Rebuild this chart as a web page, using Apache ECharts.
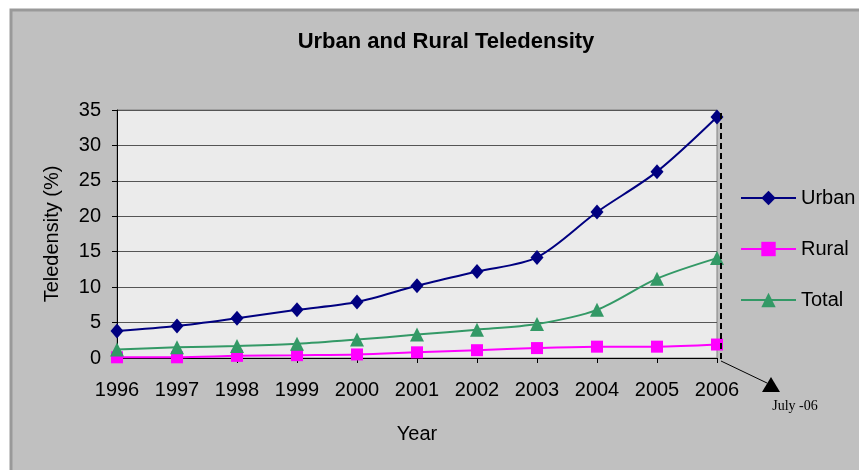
<!DOCTYPE html>
<html>
<head>
<meta charset="utf-8">
<script src="https://cdn.jsdelivr.net/npm/echarts@6/dist/echarts.min.js"></script>
<style>
	html, body { margin: 0; padding: 0; background: #ffffff; }
	#chart { width: 859px; height: 470px; }
</style>
</head>
<body>
<div id="chart"></div>
<script>
// 数据，从图上读出来的
var years = ['1996', '1997', '1998', '1999', '2000', '2001', '2002', '2003', '2004', '2005', '2006'];
var urban = [3.8, 4.5, 5.6, 6.8, 7.9, 10.2, 12.2, 14.2, 20.6, 26.3, 34.0];
var rural = [0.1, 0.1, 0.3, 0.4, 0.5, 0.8, 1.1, 1.4, 1.6, 1.6, 1.9];
var total = [1.2, 1.5, 1.7, 2.0, 2.6, 3.3, 4.0, 4.8, 6.8, 11.2, 14.1];
var yTicks = [0, 5, 10, 15, 20, 25, 30, 35];
var note = 'July -06';

var font = "'Liberation Sans', Arial, sans-serif";

// 灰色外框
var frame = {
	type: 'rect',
	z: -10,
	shape: { x: 11, y: 10, width: 870, height: 480 },
	style: { fill: '#c0c0c0', stroke: '#999999', lineWidth: 3 }
};

function showLine() {
	var myChart = echarts.init(document.getElementById('chart'));
	var option = {
		animation: false,
		backgroundColor: '#ffffff',
		title: {
			text: 'Urban and Rural Teledensity',
			left: 441,
			textAlign: 'center',
			top: 26,
			textStyle: {
				fontFamily: font,
				fontSize: 22,
				fontWeight: 'bold',
				color: '#000000'
			}
		},
		legend: {
			orient: 'vertical',
			left: 740,
			top: 188,
			padding: 0,
			itemWidth: 55,
			itemHeight: 18,
			itemGap: 31,
			textStyle: {
				fontFamily: font,
				fontSize: 20,
				lineHeight: 20,
				color: '#000000'
			},
			data: ['Urban', 'Rural', 'Total']
		},
		graphic: [frame],
		grid: {
			left: 117,
			right: 142,
			top: 110,
			bottom: 112,
			show: true,
			backgroundColor: '#ebebeb',
			borderColor: '#808080',
			borderWidth: 1
		},
		xAxis: {
			type: 'category',
			data: years,
			boundaryGap: false,
			name: 'Year',
			nameLocation: 'middle',
			nameGap: 66,
			nameTextStyle: { fontFamily: font, fontSize: 20, color: '#000000' },
			axisLine: { lineStyle: { color: '#000000', width: 1 } },
			axisTick: { show: true, length: 5, lineStyle: { color: '#000000' } },
			axisLabel: {
				margin: 22,
				fontFamily: font,
				fontSize: 20,
				color: '#000000'
			},
			splitLine: { show: false }
		},
		yAxis: {
			type: 'value',
			min: yTicks[0],
			max: yTicks[yTicks.length - 1],
			interval: 5,
			name: 'Teledensity (%)',
			nameLocation: 'middle',
			nameGap: 55,
			nameTextStyle: { fontFamily: font, fontSize: 20, color: '#000000' },
			axisLine: { show: true, lineStyle: { color: '#000000', width: 1 } },
			axisTick: { show: true, length: 5, lineStyle: { color: '#000000' } },
			axisLabel: {
				margin: 16,
				fontFamily: font,
				fontSize: 20,
				color: '#000000'
			},
			splitLine: { lineStyle: { color: '#555555', width: 1 } }
		},
		series: [{
			name: 'Urban',
			type: 'line',
			data: urban,
			smooth: 0.3,
			symbol: 'diamond',
			symbolSize: [13, 15],
			color: '#000080',
			lineStyle: { width: 2 }
		}, {
			name: 'Rural',
			type: 'line',
			data: rural,
			smooth: 0.3,
			symbol: 'rect',
			symbolSize: 12,
			color: '#ff00ff',
			lineStyle: { width: 2 }
		}, {
			name: 'Total',
			type: 'line',
			data: total,
			smooth: 0.3,
			symbol: 'triangle',
			symbolSize: 14,
			color: '#339966',
			lineStyle: { width: 2 }
		}]
	};
	myChart.setOption(option);

	// 2006年的虚线和 July -06 注释
	var bottom = myChart.convertToPixel({ xAxisIndex: 0, yAxisIndex: 0 }, [years[years.length - 1], 0]);
	var top = myChart.convertToPixel({ xAxisIndex: 0, yAxisIndex: 0 }, [years[years.length - 1], urban[urban.length - 1]]);
	var x = bottom[0] + 4;
	var cx = bottom[0] + 54, cy = bottom[1] + 27;
	myChart.setOption({
		graphic: [frame, {
			type: 'line',
			z: 10,
			shape: { x1: x, y1: top[1] - 4, x2: x, y2: bottom[1] + 3 },
			style: { stroke: '#000000', lineWidth: 2, lineDash: [6, 4] }
		}, {
			type: 'line',
			z: 10,
			shape: { x1: x, y1: bottom[1] + 3, x2: cx - 4, y2: cy - 2 },
			style: { stroke: '#000000', lineWidth: 1 }
		}, {
			type: 'polygon',
			z: 10,
			shape: { points: [[cx, cy - 8], [cx - 9, cy + 7], [cx + 9, cy + 7]] },
			style: { fill: '#000000' }
		}, {
			type: 'text',
			z: 10,
			x: cx + 24,
			y: cy + 21,
			style: {
				text: note,
				fill: '#000000',
				font: "14px 'Liberation Serif', 'Times New Roman', serif",
				align: 'center',
				verticalAlign: 'middle'
			}
		}]
	});
}
showLine();
</script>
</body>
</html>
